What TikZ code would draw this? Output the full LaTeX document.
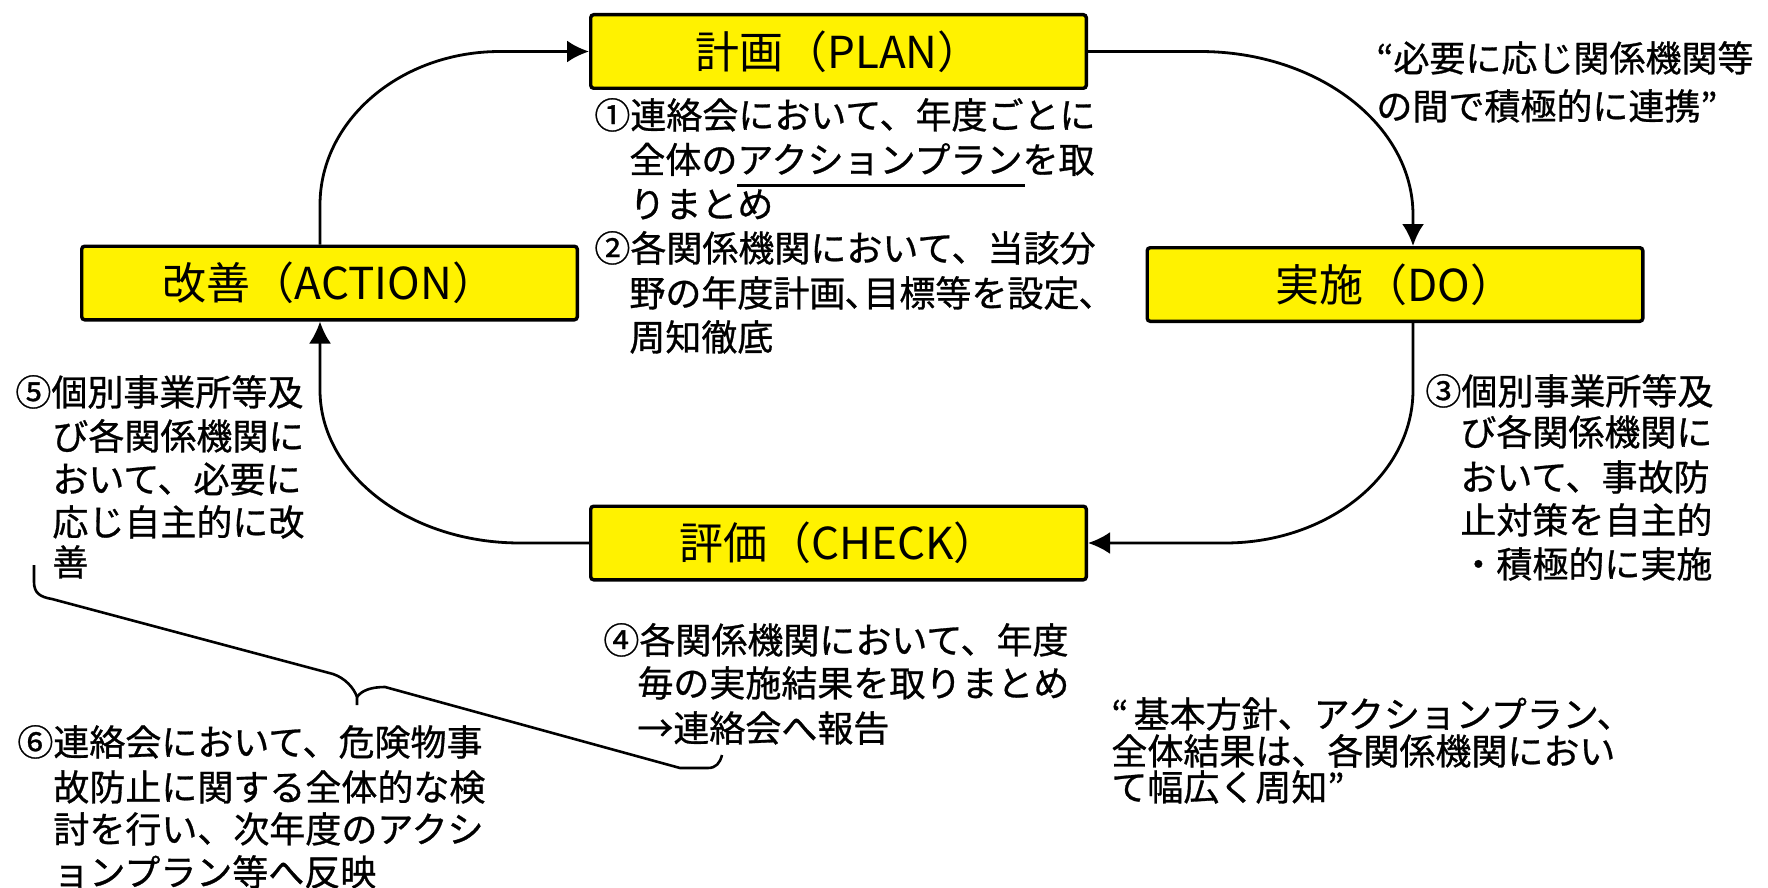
\documentclass[tikz,border=0pt]{standalone}
\usepackage{fontspec}
\setmainfont{Noto Sans CJK JP}
\newfontfamily\bodyjp[FakeBold=0.8]{Noto Sans CJK JP}
\usetikzlibrary{arrows.meta}
\newcommand\myul[1]{\makebox[0pt][l]{\rule[-7pt]{8em}{1.4pt}}#1}
\begin{document}
\begin{tikzpicture}[x=0.5pt,y=-0.5pt,
  box/.style={draw=black, fill=yellow, line width=1.7pt, rounded corners=1.5pt,
    minimum width=247.8pt, minimum height=36.8pt, inner sep=0pt,
    text height=19.4pt, text depth=2.6pt, font=\fontsize{22}{26}\selectfont},
  txt/.style={anchor=west, inner sep=0pt, text height=15.8pt, text depth=2.2pt,
    font=\bodyjp\fontsize{18}{22}\selectfont},
  conn/.style={line width=1.4pt},
  tip/.style={-{Latex[length=11pt,width=11pt]}},
  brace/.style={line width=1.3pt, line join=round}
]
\fill[white] (0,0) rectangle (1768,888);
\useasboundingbox (0,0) rectangle (1768,888);

% boxes
\node[box] (P) at (838.5,51.5) {計画（PLAN）};
\node[box] (A) at (329.5,283) {改善（ACTION）};
\node[box] (D) at (1395,284.5) {実施（DO）};
\node[box] (C) at (838.5,543) {評価（CHECK）};

\coordinate (xr) at (1413,0);
\coordinate (xl) at (320,0);

% connectors
\draw[conn,tip] (P.east) -- (1200,51.5) .. controls (1317.6,51.5) and (1413,124.7) .. (1413,215) -- (D.north -| xr);
\draw[conn,tip] (D.south -| xr) -- (1413,390) .. controls (1413,474.5) and (1328.8,543) .. (1225,543) -- (C.east);
\draw[conn,tip] (C.west) -- (520,543) .. controls (409.5,543) and (320,474.5) .. (320,390) -- (A.south -| xl);
\draw[conn,tip] (A.north -| xl) -- (320,205) .. controls (320,120.2) and (400.6,51.5) .. (500,51.5) -- (P.west);

% brace
\coordinate (b0) at (34,565);
\coordinate (b1) at (357,705);
\coordinate (b2) at (722,755);
\draw[brace] (b0) -- (34,582) .. controls (34,593) and (40,597) .. (52,599) -- (333,674)
  .. controls (345,678) and (354,688) .. (357,697) -- (b1);
\draw[brace] (357,697) .. controls (362,690) and (372,687) .. (385,687) -- (680,768)
  -- (708,768) .. controls (716,768) and (720,763) .. (b2);

% (1)(2)
\node[txt] (t1a) at (594,115) {①連絡会において、年度ごとに};
\node[txt] (t1b) at (629,159.5) {全体の\myul{アクションプラン}を取};
\node[txt] (t1c) at (629,204) {りまとめ};
\node[txt] (t2a) at (594,248) {②各関係機関において、当該分};
\node[txt] (t2b) at (629,293) {野の年度計画､目標等を設定､};
\node[txt] (t2c) at (629,337) {周知徹底};

% (3)
\node[txt] (t3a) at (1425,391) {③個別事業所等及};
\node[txt] (t3b) at (1460,432) {び各関係機関に};
\node[txt] (t3c) at (1460,477) {おいて、事故防};
\node[txt] (t3d) at (1460,520) {止対策を自主的};
\node[txt] (t3e) at (1460,564) {・積極的に実施};

% (4)
\node[txt] (t4a) at (603,640) {④各関係機関において、年度};
\node[txt] (t4b) at (637,683) {毎の実施結果を取りまとめ};
\node[txt] (t4c) at (637,728) {→連絡会へ報告};

% (5)
\node[txt] (t5a) at (15,392) {⑤個別事業所等及};
\node[txt] (t5b) at (52,436) {び各関係機関に};
\node[txt] (t5c) at (52,479) {おいて、必要に};
\node[txt] (t5d) at (52,522) {応じ自主的に改};
\node[txt] (t5e) at (52,562) {善};

% (6)
\node[txt] (t6a) at (17,742) {⑥連絡会において、危険物事};
\node[txt] (t6b) at (53,787) {故防止に関する全体的な検};
\node[txt] (t6c) at (53,829) {討を行い、次年度のアクシ};
\node[txt] (t6d) at (53,872) {ョンプラン等へ反映};

% quotes
\node[txt] (q1a) at (1376,58) {“必要に応じ関係機関等};
\node[txt] (q1b) at (1376,106) {の間で積極的に連携”};
\node[txt] (q2a) at (1111,714) {\makebox[0.62em][l]{“}基本方針、アクションプラン、};
\node[txt] (q2b) at (1111,751) {全体結果は、各関係機関におい};
\node[txt] (q2c) at (1111,787) {て幅広く周知”};
\end{tikzpicture}
\end{document}
